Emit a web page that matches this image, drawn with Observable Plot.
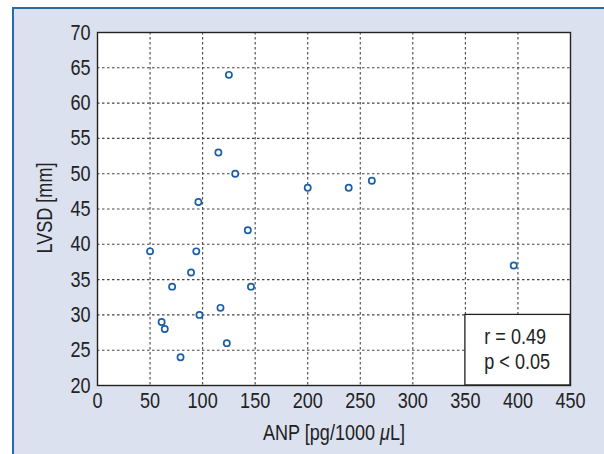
<!DOCTYPE html>
<html>
<head>
<meta charset="utf-8">
<script src="https://cdn.jsdelivr.net/npm/d3@7"></script>
<script src="https://cdn.jsdelivr.net/npm/@observablehq/plot@0.6"></script>
<style>
  html, body { margin: 0; padding: 0; background: #ffffff; }
  #chart svg { display: block; }
</style>
</head>
<body>
<div id="chart"></div>
<script>
const anp  = [125, 115, 131, 96, 143, 200, 239, 261, 50, 94, 89, 71, 146, 117, 97, 61, 64, 79, 123, 396];
const lvsd = [64, 53, 50, 46, 42, 48, 48, 49, 39, 39, 36, 34, 34, 31, 30, 29, 28, 24, 26, 37];
const xTicks = [0, 50, 100, 150, 200, 250, 300, 350, 400, 450];
const yTicks = [20, 25, 30, 35, 40, 45, 50, 55, 60, 65, 70];
const statLines = ["r = 0.49", "p < 0.05"];
const statBox = [{x1: 350, x2: 450, y1: 20, y2: 30}];
const statPos = [{x: 368, y: 26.9}, {x: 368, y: 23.4}];

const points = anp.map((v, i) => ({anp: v, lvsd: lvsd[i]}));
const statText = statLines.map((t, i) => ({text: t, ...statPos[i]}));

const FONT = "'Liberation Sans', Arial, sans-serif";
const FS = 22;
const ink = "#222222";

const chart = Plot.plot({
  width: 604,
  height: 454,
  marginLeft: 97,
  marginRight: 34,
  marginTop: 32,
  marginBottom: 69,
  style: {background: "transparent", fontFamily: FONT, fontSize: FS + "px", color: ink},
  x: {domain: [0, 450], ticks: xTicks},
  y: {domain: [20, 70], ticks: yTicks},
  marks: [
    Plot.frame({fill: "white"}),
    Plot.gridX(xTicks.slice(1, -1), {stroke: "#444", strokeOpacity: 1, strokeWidth: 1.1, strokeDasharray: "2.5,2.5"}),
    Plot.gridY(yTicks.slice(1, -1), {stroke: "#444", strokeOpacity: 1, strokeWidth: 1.1, strokeDasharray: "2.5,2.5"}),
    Plot.rect(statBox, {x1: "x1", x2: "x2", y1: "y1", y2: "y2", fill: "white", stroke: ink, strokeWidth: 1.3}),
    Plot.text(statText, {x: "x", y: "y", text: "text", textAnchor: "start", fill: ink, fontSize: FS}),
    Plot.frame({stroke: ink, strokeWidth: 1.4}),
    Plot.dot(points, {x: "anp", y: "lvsd", r: 3.1, stroke: "#1a5fa6", strokeWidth: 1.7, fill: "white"}),
    Plot.axisX(xTicks, {tickSize: 0, tickPadding: 7, label: null, fill: ink}),
    Plot.axisY(yTicks, {tickSize: 0, tickPadding: 7, label: null, fill: ink})
  ]
});

const svg = d3.select(chart);
// panel background and frame lines
svg.insert("rect", ":first-child")
  .attr("x", 13).attr("y", 8).attr("width", 591).attr("height", 446)
  .attr("fill", "#dbe1ef");
svg.insert("path", ":nth-child(2)")
  .attr("d", "M13,454V8H604").attr("fill", "none")
  .attr("stroke", "#2a67ad").attr("stroke-width", 2);

document.getElementById("chart").appendChild(chart);

// condense all text horizontally (the reference uses a narrow face)
svg.selectAll("text").each(function () {
  const len = this.getComputedTextLength();
  if (len > 0) {
    this.setAttribute("textLength", (len * 0.82).toFixed(2));
    this.setAttribute("lengthAdjust", "spacingAndGlyphs");
  }
});

// axis titles (condensed via transform)
svg.append("text")
  .attr("transform", "translate(52,208) rotate(-90) scale(0.82,1)")
  .attr("text-anchor", "middle")
  .attr("font-family", FONT).attr("font-size", FS).attr("fill", ink)
  .text("LVSD [mm]");

const xl = svg.append("text")
  .attr("transform", "translate(334,440) scale(0.82,1)")
  .attr("text-anchor", "middle")
  .attr("font-family", FONT).attr("font-size", FS).attr("fill", ink);
xl.append("tspan").text("ANP [pg/1000 ");
xl.append("tspan").attr("font-style", "italic").text("μ");
xl.append("tspan").text("L]");
</script>
</body>
</html>
